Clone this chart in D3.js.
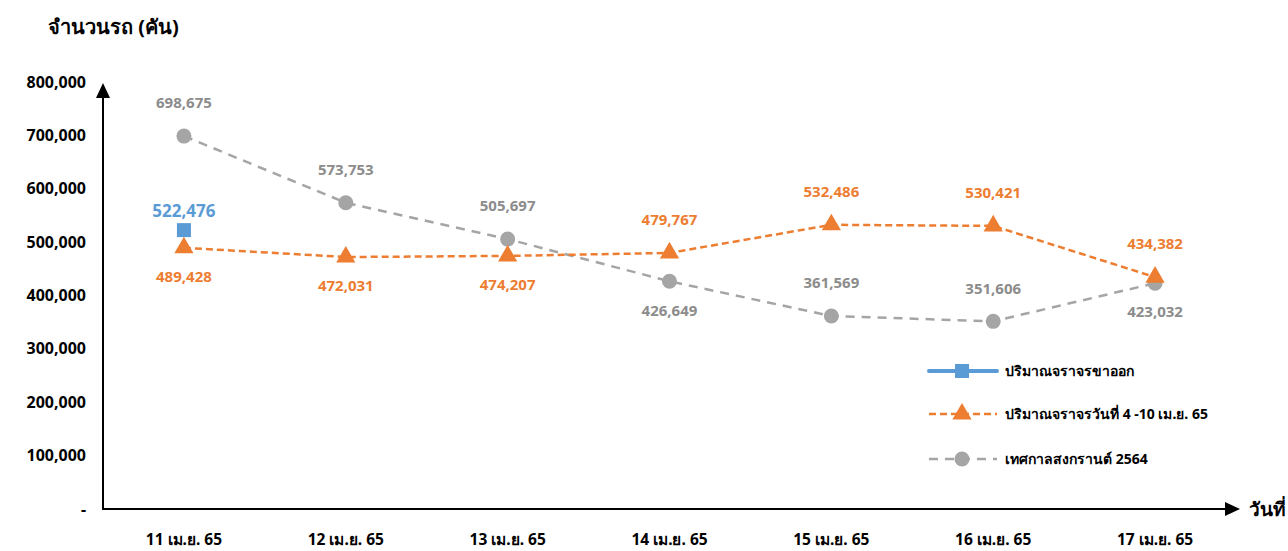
<!DOCTYPE html>
<html><head><meta charset="utf-8">
<script src="https://cdn.jsdelivr.net/npm/d3@7"></script>
<style>
body{margin:0;background:#fff;}
text{font-family:"Liberation Sans Narrow","Noto Sans",Arial,sans-serif;font-weight:bold;}
</style></head>
<body><svg id="c" width="1288" height="551"></svg>
<script>
const categories = ["11 เม.ย. 65","12 เม.ย. 65","13 เม.ย. 65","14 เม.ย. 65","15 เม.ย. 65","16 เม.ย. 65","17 เม.ย. 65"];
const seriesNames = ["ปริมาณจราจรขาออก","ปริมาณจราจรวันที่ 4 -10 เม.ย. 65","เทศกาลสงกรานต์ 2564"];
const outbound = [522476, null, null, null, null, null, null];
const avgApr4to10 = [489428, 472031, 474207, 479767, 532486, 530421, 434382];
const songkran2564 = [698675, 573753, 505697, 426649, 361569, 351606, 423032];
const orangeLabelPos = ["below","below","below","above","above","above","above"];
const grayLabelPos = ["above","above","above","below","above","above","below"];
const yTicks = [0,100000,200000,300000,400000,500000,600000,700000,800000];

const svg = d3.select("#c");
const x = d3.scaleBand().domain(categories).range([103,1236]).padding(0);
const y = d3.scaleLinear().domain([0,800000]).range([509,82]);
const cx = d => x(d) + x.bandwidth()/2;
const fmt = d3.format(",");

const BLUE="#5b9bd5", ORANGE="#ed7d31", GRAY="#a5a5a5";

// title
svg.append("text").attr("x",48).attr("y",34).attr("font-size",20).attr("fill","#000").text("จำนวนรถ (คัน)");

// y labels
svg.append("g").selectAll("text").data(yTicks).join("text")
  .attr("x",86).attr("y",d=>y(d)).attr("dy","0.35em").attr("text-anchor","end")
  .attr("font-size",16).attr("fill","#000")
  .text(d=> d===0 ? "-" : fmt(d));

// axes with arrows
svg.append("line").attr("x1",103).attr("x2",103).attr("y1",510).attr("y2",96).attr("stroke","#000").attr("stroke-width",2);
svg.append("path").attr("d","M96,98 L103,83 L110,98 Z").attr("fill","#000");
svg.append("line").attr("x1",102).attr("x2",1228).attr("y1",509).attr("y2",509).attr("stroke","#000").attr("stroke-width",2);
svg.append("path").attr("d","M1225,502 L1240,509 L1225,516 Z").attr("fill","#000");
svg.append("text").attr("x",1249).attr("y",509).attr("dy","0.35em").attr("font-size",19).attr("fill","#000").text("วันที่");

// x labels
svg.append("g").selectAll("text").data(categories).join("text")
  .attr("x",d=>cx(d)).attr("y",540).attr("dy","0.35em").attr("text-anchor","middle")
  .attr("font-size",15.5).attr("fill","#000").text(d=>d);

// lines
const line = d3.line().defined(d=>d.v!=null).x(d=>cx(d.c)).y(d=>y(d.v));
const gData = categories.map((c,i)=>({c,v:songkran2564[i],pos:grayLabelPos[i]}));
const oData = categories.map((c,i)=>({c,v:avgApr4to10[i],pos:orangeLabelPos[i]}));
const bData = categories.map((c,i)=>({c,v:outbound[i]})).filter(d=>d.v!=null);

svg.append("path").datum(gData).attr("d",line).attr("fill","none").attr("stroke",GRAY).attr("stroke-width",2.5).attr("stroke-dasharray","9,7");
svg.append("path").datum(oData).attr("d",line).attr("fill","none").attr("stroke",ORANGE).attr("stroke-width",2.5).attr("stroke-dasharray","7,4");

// markers
svg.append("g").selectAll("circle").data(gData).join("circle")
  .attr("cx",d=>cx(d.c)).attr("cy",d=>y(d.v)).attr("r",7.5).attr("fill",GRAY);
const tri = d3.symbol().type(d3.symbolTriangle).size(160);
svg.append("g").selectAll("path").data(oData).join("path")
  .attr("transform",d=>`translate(${cx(d.c)},${y(d.v)})`).attr("d",tri).attr("fill",ORANGE);
svg.append("g").selectAll("rect").data(bData).join("rect")
  .attr("x",d=>cx(d.c)-7).attr("y",d=>y(d.v)-7).attr("width",14).attr("height",14).attr("fill",BLUE);

// data labels
function labels(data,color){
  svg.append("g").selectAll("text").data(data).join("text")
    .attr("x",d=>cx(d.c)).attr("y",d=>y(d.v)+(d.pos==="above"?-33:29)).attr("dy","0.35em")
    .attr("text-anchor","middle").attr("font-size",15).attr("fill",color).text(d=>fmt(d.v));
}
labels(gData,"#8c8c8c");
labels(oData,ORANGE);
svg.append("g").selectAll("text").data(bData).join("text")
  .attr("x",d=>cx(d.c)).attr("y",d=>y(d.v)-19).attr("dy","0.35em")
  .attr("text-anchor","middle").attr("font-size",17).attr("fill",BLUE).text(d=>fmt(d.v));

// legend
const leg = svg.append("g");
const ly = [371,414,459];
leg.append("line").attr("x1",929).attr("x2",997).attr("y1",ly[0]).attr("y2",ly[0]).attr("stroke",BLUE).attr("stroke-width",4).attr("stroke-linecap","round");
leg.append("rect").attr("x",955).attr("y",ly[0]-7).attr("width",14).attr("height",14).attr("fill",BLUE);
leg.append("line").attr("x1",929).attr("x2",997).attr("y1",ly[1]).attr("y2",ly[1]).attr("stroke",ORANGE).attr("stroke-width",2.5).attr("stroke-dasharray","7,4");
leg.append("path").attr("transform",`translate(962,${ly[1]})`).attr("d",tri).attr("fill",ORANGE);
leg.append("line").attr("x1",929).attr("x2",997).attr("y1",ly[2]).attr("y2",ly[2]).attr("stroke",GRAY).attr("stroke-width",2.5).attr("stroke-dasharray","9,7");
leg.append("circle").attr("cx",962).attr("cy",ly[2]).attr("r",7.5).attr("fill",GRAY);
leg.selectAll("text").data(seriesNames).join("text")
  .attr("x",1005).attr("y",(d,i)=>ly[i]).attr("dy","0.35em").attr("font-size",14).attr("fill","#000").text(d=>d);
</script></body></html>
